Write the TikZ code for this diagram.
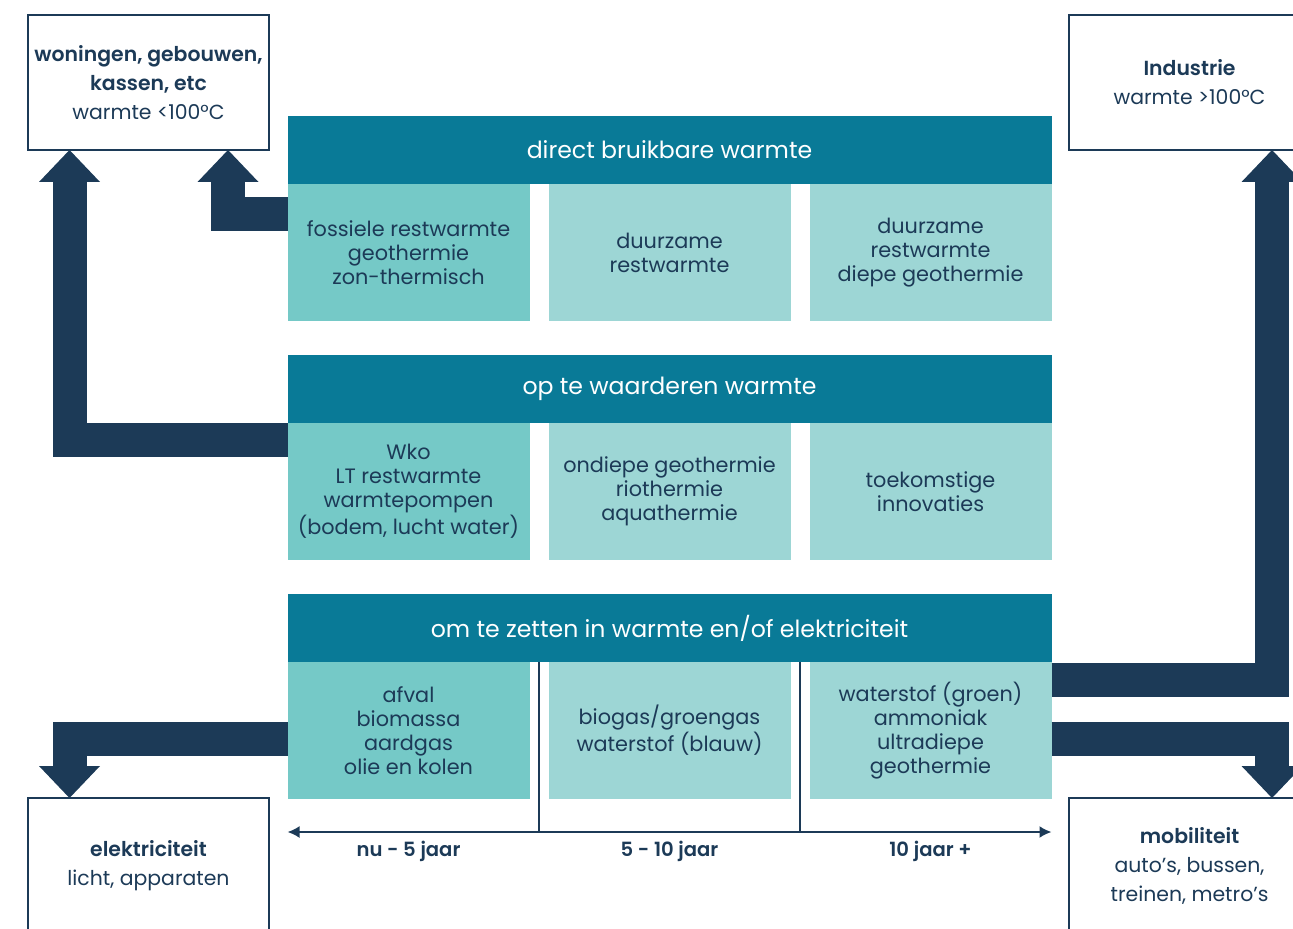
\documentclass[tikz,border=0pt]{standalone}
\usepackage{fontspec}
\setmainfont{Poppins}[BoldFont={Poppins SemiBold}]
\usetikzlibrary{arrows.meta, positioning, calc}
\definecolor{flowNavy}{RGB}{28,58,87}
\definecolor{headTeal}{RGB}{9,122,151}
\definecolor{cellDark}{RGB}{117,201,199}
\definecolor{cellLight}{RGB}{157,214,213}

\begin{document}
\begin{tikzpicture}[
    x=0.5pt, y=-0.5pt,
    node distance=9.5pt and 9.5pt,
    every node/.style={outer sep=0pt},
    bandhead/.style={rectangle, fill=headTeal, text=white, minimum width=382pt, minimum height=34pt, inner sep=0pt, font=\fontsize{11.8}{13}\selectfont},
    cell/.style={rectangle, fill=cellLight, text=flowNavy, minimum width=121pt, minimum height=68.5pt, inner sep=0pt, align=center, font=\fontsize{10.4}{12}\selectfont},
    cellfirst/.style={cell, fill=cellDark},
    endbox/.style={rectangle, draw=flowNavy, line width=1pt, fill=white, text=flowNavy, minimum width=120.5pt, minimum height=67.5pt, inner sep=0pt, align=center, font=\fontsize{10.2}{14.5}\selectfont},
    flow/.style={draw=flowNavy, line width=17pt, line join=miter, -{Triangle[length=16pt, width=30.5pt, line width=0pt]}},
    timeline/.style={flowNavy, line width=1pt, {Latex[length=6pt, width=6pt]}-{Latex[length=6pt, width=6pt]}},
    divider/.style={flowNavy, line width=1pt},
    period/.style={text=flowNavy, font=\bfseries\fontsize{9.8}{11}\selectfont}
]
\clip (0,0) rectangle (1293,929);

% afnemers
\node[endbox] (woon) at (148.5,82.5) {\textbf{woningen, gebouwen,}\\\textbf{kassen, etc}\\warmte <100°C};
\node[endbox] (industrie) at (1189.5,82.5) {\textbf{Industrie}\\warmte >100°C};
\node[endbox] (elek) at (148.5,865.5) {\textbf{elektriciteit}\\licht, apparaten};
\node[endbox] (mobiel) at (1189.5,865.5) {\textbf{mobiliteit}\\auto’s, bussen,\\treinen, metro’s};

% direct bruikbaar
\node[bandhead] (direct) at (669.5,150) {direct bruikbare warmte};
\node[cellfirst, below right=0pt and 0pt of direct.south west] (fossiel) {fossiele restwarmte\\geothermie\\zon-thermisch};
\node[cell, right=of fossiel] (duurzaam) {duurzame\\restwarmte};
\node[cell, right=of duurzaam] (diep) {duurzame\\restwarmte\\diepe geothermie};

% op te waarderen
\node[bandhead, below right=17pt and 0pt of fossiel.south west] (opwaard) {op te waarderen warmte};
\node[cellfirst, below right=0pt and 0pt of opwaard.south west] (wko) {Wko\\LT restwarmte\\warmtepompen\\(bodem, lucht water)};
\node[cell, right=of wko] (ondiep) {ondiepe geothermie\\riothermie\\aquathermie};
\node[cell, right=of ondiep] (innov) {toekomstige\\innovaties};

% om te zetten
\node[bandhead, below right=17pt and 0pt of wko.south west] (omzet) {om te zetten in warmte en/of elektriciteit};
\node[cellfirst, below right=0pt and 0pt of omzet.south west] (afval) {afval\\biomassa\\aardgas\\olie en kolen};
\node[cell, right=of afval] (biogas) {biogas/groengas\\waterstof (blauw)};
\node[cell, right=of biogas] (groen) {waterstof (groen)\\ammoniak\\ultradiepe\\geothermie};

% stromen
\draw[flow] ([yshift=-15.25pt]fossiel.north west) -| ([xshift=-20.5pt]woon.south east);
\draw[flow] ([yshift=-8.75pt]wko.north west) -| ([xshift=20.75pt]woon.south west);
\draw[flow] ([yshift=-8.75pt]groen.north east) -| ([xshift=-19pt]industrie.south east);
\draw[flow] ([yshift=-4.25pt]afval.west) -| ([xshift=20.75pt]elek.north west);
\draw[flow] ([yshift=-4.25pt]groen.east) -| ([xshift=-19pt]mobiel.north east);

% tijdlijn
\draw[divider] ($(afval.north east)!.5!(biogas.north west)$) -- ++(0,169);
\draw[divider] ($(biogas.north east)!.5!(groen.north west)$) -- ++(0,169);
\draw[timeline] ([yshift=-16.5pt]afval.south west) -- ([yshift=-16.5pt]groen.south east);
\node[period] (nu) at ([yshift=-26pt]afval.south) {nu - 5 jaar};
\node[period] (middel) at ([yshift=-26pt]biogas.south) {5 - 10 jaar};
\node[period] (later) at ([yshift=-26pt]groen.south) {10 jaar +};
\end{tikzpicture}
\end{document}
